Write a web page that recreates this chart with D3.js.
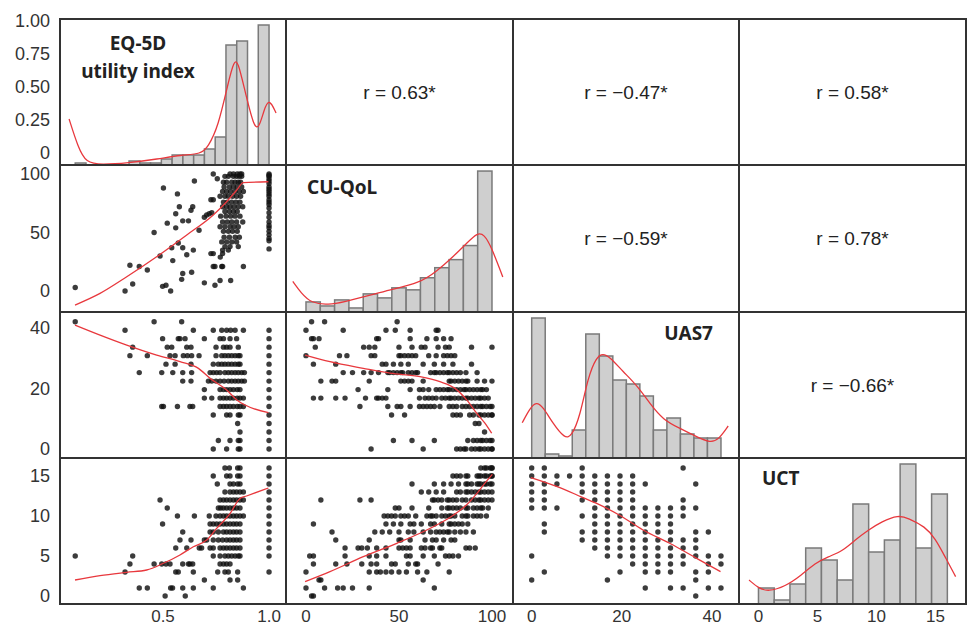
<!DOCTYPE html>
<html>
<head>
<meta charset="utf-8">
<script src="https://cdn.jsdelivr.net/npm/d3@7"></script>
<style>
  body { margin: 0; background: #fff; }
</style>
</head>
<body>
<div id="chart"></div>
<script>
var width = 971;
var height = 628;

// panel grid edges
var colEdges = [60, 286, 513, 739, 966];
var rowEdges = [19, 165, 312, 458, 604];

var variables = ["eq", "qol", "uas", "uct"];
var panelTitles = {
    eq: ["EQ-5D", "utility index"],
    qol: ["CU-QoL"],
    uas: ["UAS7"],
    uct: ["UCT"]
};

// correlation labels for the upper triangle, [row, col, text]
var corrLabels = [
    [0, 1, "r = 0.63*"],
    [0, 2, "r = \u22120.47*"],
    [0, 3, "r = 0.58*"],
    [1, 2, "r = \u22120.59*"],
    [1, 3, "r = 0.78*"],
    [2, 3, "r = \u22120.66*"]
];

// tick values and labels
var eqRowTicks = [0, 0.25, 0.5, 0.75, 1];
var eqRowTickLabels = ["0", "0.25", "0.50", "0.75", "1.00"];
var eqColTicks = [0.5, 1.0];
var eqColTickLabels = ["0.5", "1.0"];
var qolTicks = [0, 50, 100];
var uasTicks = [0, 20, 40];
var uctTicks = [0, 5, 10, 15];

// histograms (diagonal): bin range and counts
var eqBins = [0.086, 1.0];
var eqCounts = [1, 0, 0, 0, 0, 2, 1, 1, 3, 5, 5, 5, 8, 14, 60, 62, 0, 70];
var qolBins = [0, 100];
var qolCounts = [5, 3, 6, 2, 9, 7, 12, 11, 17, 22, 26, 33, 70];
var uasBins = [0, 42];
var uasCounts = [70, 2, 1, 14, 62, 51, 39, 37, 31, 14, 20, 12, 10, 10];
var uctBins = [0, 16];
var uctCounts = [8, 2, 10, 28, 22, 12, 50, 26, 32, 70, 28, 55];

// density curves (x value, density in count units)
var eqKde = [[0.057, 23], [0.099, 9], [0.137, 1], [0.21, 0.2], [0.335, 1], [0.476, 3], [0.585, 5],
    [0.68, 5.5], [0.712, 9], [0.76, 19], [0.807, 41], [0.835, 52.5], [0.854, 51.5], [0.882, 39],
    [0.929, 18.5], [0.953, 18.5], [0.976, 27.5], [1.0, 33.5], [1.033, 26]];
var qolKde = [[-7.1, 15.2], [-2.6, 9.4], [2.9, 4.4], [12, 3.5], [21.1, 5.2], [32.1, 7.7], [44.8, 11],
    [61.2, 14.4], [70.3, 20.2], [79.4, 27.7], [86.7, 34.4], [92.2, 39.4], [95.8, 38.5], [99.5, 32.7],
    [105.8, 17.4]];
var uasKde = [[-2.1, 17.6], [-0.4, 24.8], [1, 28.2], [2.5, 25.6], [4.7, 17.3], [7.3, 9.8], [8.8, 10.6],
    [10.7, 20.6], [12.5, 40.6], [14.4, 50.6], [15.8, 52.3], [17.3, 50.6], [20.3, 43.1], [23.3, 36.5],
    [26.2, 27.3], [29.2, 19], [32.9, 14.8], [36.6, 10.6], [39.6, 7.6], [41.4, 9], [43.6, 16]];
var uctKde = [[-0.8, 12], [0, 7.9], [0.83, 6.2], [2.25, 8.7], [3.66, 14.5], [4.79, 20.4], [5.92, 23.7],
    [7.05, 26.2], [8.18, 32], [9.31, 37], [10.44, 41.2], [11.85, 44.5], [12.69, 42.9], [14.11, 38.7],
    [14.96, 32.9], [15.8, 23.7], [16.7, 13.7]];

// discrete levels
var uasLevels = [0, 2.8, 5.6, 8.4, 11.2, 14, 16.8, 19.6, 22.4, 25.2, 28, 30.8, 33.6, 36.4, 39.2, 42];
var uctLevels = [0, 1, 2, 3, 4, 5, 6, 7, 8, 9, 10, 11, 12, 13, 14, 15, 16];

// EQ-5D vs CU-QoL, [eq, qol]
var eqQolPoints = [
    [0.086, 3], [0.321, 0], [0.357, 6], [0.344, 22], [0.388, 21], [0.426, 18], [0.458, 50], [0.486, 30],
    [0.502, 88], [0.498, 4], [0.514, 5], [0.536, 0], [0.52, 58], [0.546, 26], [0.541, 37], [0.56, 54],
    [0.568, 83], [0.56, 66], [0.577, 72], [0.572, 41], [0.593, 37], [0.593, 15], [0.588, 10], [0.593, 60],
    [0.612, 31], [0.62, 60], [0.632, 69], [0.64, 72], [0.635, 16], [0.643, 35], [0.648, 94], [0.67, 52],
    [0.695, 7], [0.695, 63], [0.706, 65], [0.718, 66], [0.73, 67], [0.737, 100], [0.756, 96], [0.745, 5],
    [0.769, 9], [0.819, 9], [0.879, 21], [0.726, 32], [0.737, 32], [0.737, 21], [0.745, 21], [0.777, 21],
    [0.781, 21], [0.77, 29], [0.781, 32], [0.726, 78], [0.737, 78], [0.769, 81],
    [0.816, 100], [0.832, 100], [0.85, 100], [0.863, 100], [0.871, 100],
    [0.792, 98], [0.808, 98], [0.832, 98], [0.847, 98], [0.86, 98], [0.871, 98],
    [0.785, 93], [0.8, 93], [0.824, 93], [0.84, 93], [0.855, 93], [0.866, 93],
    [0.788, 89], [0.813, 89], [0.832, 89], [0.85, 89], [0.871, 89],
    [0.781, 85], [0.8, 85], [0.819, 85], [0.84, 85], [0.86, 85], [0.879, 85],
    [0.792, 81], [0.808, 81], [0.828, 81], [0.847, 81], [0.866, 81],
    [0.785, 76], [0.803, 76], [0.824, 76], [0.844, 76], [0.863, 76],
    [0.781, 72], [0.8, 72], [0.816, 72], [0.835, 72], [0.855, 72], [0.876, 72],
    [0.792, 68], [0.813, 68], [0.832, 68], [0.85, 68],
    [0.772, 64], [0.797, 64], [0.819, 64], [0.84, 64], [0.863, 64],
    [0.781, 59], [0.803, 59], [0.824, 59], [0.847, 59], [0.876, 59],
    [0.769, 55], [0.792, 55], [0.816, 55], [0.835, 55], [0.855, 55],
    [0.785, 51], [0.808, 51], [0.828, 51], [0.85, 51],
    [0.788, 46], [0.813, 46], [0.84, 46], [0.86, 46],
    [0.777, 42], [0.8, 42], [0.824, 42], [0.847, 42],
    [0.792, 38], [0.816, 38], [0.855, 38], [0.781, 35], [0.808, 35],
    [1, 100], [1, 99], [1, 98], [1, 96], [1, 94], [1, 92], [1, 89], [1, 87], [1, 85], [1, 83], [1, 81],
    [1, 78], [1, 76], [1, 74], [1, 71], [1, 67], [1, 63], [1, 59], [1, 56], [1, 54], [1, 51], [1, 48],
    [1, 45], [1, 43], [1, 36]
];

// EQ-5D values for each UAS7 level
var eqByUas = [
    [0.737, 0.8, 0.855, 0.863, 1.0],
    [0.761, 0.816, 0.855, 0.863, 1.0],
    [0.863, 1.0],
    [0.852, 1.0],
    [0.737, 0.8, 0.816, 0.855, 0.863, 1.0],
    [0.494, 0.502, 0.568, 0.627, 0.64, 0.769, 0.785, 0.8, 0.816, 0.832, 0.85, 0.863, 0.879, 1.0],
    [0.695, 0.73, 0.769, 0.785, 0.8, 0.816, 0.832, 0.85, 0.863, 0.879, 1.0],
    [0.695, 0.769, 0.785, 0.8, 0.816, 0.832, 0.85, 0.863, 1.0],
    [0.593, 0.632, 0.714, 0.73, 0.75, 0.769, 0.788, 0.808, 0.824, 0.84, 0.855, 0.871, 0.884, 1.0],
    [0.388, 0.494, 0.546, 0.593, 0.635, 0.722, 0.737, 0.753, 0.769, 0.792, 0.808, 0.824, 0.84, 0.855, 0.871, 0.884, 1.0],
    [0.514, 0.557, 0.632, 0.737, 0.761, 0.777, 0.792, 0.808, 0.824, 0.84, 0.855, 0.863, 1.0],
    [0.344, 0.426, 0.533, 0.557, 0.596, 0.615, 0.635, 0.67, 0.75, 0.777, 0.792, 0.808, 0.824, 0.84, 0.855, 0.863, 1.0],
    [0.357, 0.52, 0.541, 0.612, 0.632, 0.75, 0.785, 0.8, 0.816, 0.855, 1.0],
    [0.498, 0.572, 0.58, 0.604, 0.695, 0.769, 0.785, 0.816, 0.847, 1.0],
    [0.321, 0.643, 0.737, 0.777, 0.8, 0.819, 0.84, 0.879, 1.0],
    [0.086, 0.458, 0.588]
];

// CU-QoL values for each UAS7 level
var qolByUas = [
    [35, 63, 81, 83, 85, 86, 89, 91, 93, 94, 96, 98, 100, 100],
    [47, 57, 69, 87, 90, 92, 94, 95, 97, 99, 100],
    [96],
    [91, 93],
    [46, 53, 79, 81, 83, 88, 90, 93, 94, 96, 98, 100, 100],
    [29, 44, 49, 51, 56, 61, 63, 65, 67, 69, 72, 77, 79, 81, 84, 86, 88, 90, 92, 94, 95, 97, 99, 100],
    [4, 8, 16, 21, 32, 38, 39, 41, 43, 61, 64, 66, 68, 70, 73, 75, 77, 78, 80, 82, 84, 86, 87, 89, 91, 93, 94, 96, 98],
    [28, 44, 56, 61, 63, 66, 70, 72, 74, 76, 77, 79, 81, 83, 85, 86, 88, 90, 92, 94, 95, 97],
    [8, 14, 16, 34, 51, 53, 55, 57, 63, 77, 78, 80, 82, 84, 86, 87, 92, 96, 100],
    [20, 25, 31, 35, 39, 44, 45, 47, 49, 51, 52, 55, 57, 59, 60, 67, 69, 70, 72, 74, 76, 77, 79, 81, 83, 86, 92],
    [4, 16, 41, 43, 47, 51, 55, 63, 69, 74, 79, 89],
    [0, 18, 22, 35, 37, 50, 51, 53, 55, 57, 59, 66, 70, 74, 76, 78, 80],
    [5, 31, 34, 37, 50, 57, 62, 64, 71, 75, 77, 89, 100],
    [3, 4, 7, 38, 39, 56, 65, 70, 74, 78],
    [0, 20, 43, 48, 56, 70, 71],
    [3, 10, 49]
];

// EQ-5D values for each UCT level
var eqByUct = [
    [0.51, 0.605],
    [0.388, 0.426, 0.536, 0.545, 0.593, 0.643, 0.737, 0.879],
    [0.695, 0.816, 0.852],
    [0.321, 0.56, 0.572, 0.643, 0.758, 0.792, 0.808, 0.852, 1.0],
    [0.344, 0.458, 0.494, 0.514, 0.533, 0.593, 0.62, 0.627, 0.64, 0.769, 0.785, 0.8, 0.816],
    [0.086, 0.357, 0.737, 0.769, 0.792, 0.808, 0.824, 0.84, 0.855, 0.863, 1.0],
    [0.56, 0.612, 0.671, 0.682, 0.722, 0.737, 0.769, 0.785, 0.8, 0.816, 0.832, 0.847, 0.863, 1.0],
    [0.58, 0.632, 0.695, 0.706, 0.737, 0.761, 0.781, 0.8, 0.816, 0.832, 0.847, 0.863, 1.0],
    [0.593, 0.722, 0.737, 0.761, 0.785, 0.8, 0.816, 0.832, 0.847, 0.863, 1.0],
    [0.498, 0.722, 0.737, 0.753, 0.769, 0.785, 0.8, 0.816, 0.832, 0.847, 0.863, 1.0],
    [0.568, 0.648, 0.718, 0.75, 0.769, 0.785, 0.8, 0.816, 0.832, 0.847, 0.863, 0.879, 1.0],
    [0.52, 0.761, 0.772, 0.785, 0.8, 0.816, 0.832, 0.847, 0.863, 1.0],
    [0.486, 0.769, 0.785, 0.8, 0.816, 0.832, 0.847, 0.863, 0.879, 1.0],
    [0.792, 0.816, 0.832, 0.847, 0.863, 0.879, 1.0],
    [0.756, 0.816, 0.832, 0.852, 0.863, 1.0],
    [0.737, 0.8, 0.816, 0.852, 0.863, 1.0],
    [0.792, 0.813, 0.852, 0.863, 1.0]
];

// CU-QoL values for each UCT level
var qolByUct = [
    [3, 4],
    [0, 10, 17, 20, 25, 34, 69],
    [7, 8, 63],
    [0, 34, 38, 40, 43, 46, 50, 54, 60, 65, 77],
    [4, 16, 22, 30, 35, 38, 46, 48, 55, 59, 60, 71],
    [2, 4, 21, 34, 38, 43, 54, 56, 63, 69, 75, 77, 79, 82],
    [21, 28, 30, 33, 38, 43, 50, 52, 54, 56, 62, 64, 67, 68, 72, 73, 86, 88, 91],
    [16, 34, 50, 51, 56, 64, 68, 70, 74, 78, 80],
    [14, 37, 41, 45, 50, 55, 58, 63, 67, 70, 72, 74, 76, 77, 80, 83, 86, 90],
    [4, 43, 47, 51, 56, 58, 62, 67, 69, 73, 77, 78, 80, 82, 84, 87],
    [42, 44, 46, 48, 51, 53, 55, 59, 65, 67, 68, 70, 73, 75, 77, 78, 80, 84, 86, 87, 90, 92, 94, 97],
    [48, 50, 57, 66, 73, 76, 77, 79, 81, 83, 86, 87, 90, 92, 94, 95, 98],
    [8, 29, 35, 68, 69, 71, 73, 76, 77, 79, 81, 84, 86, 89, 91, 93, 94, 96, 98, 100],
    [62, 66, 70, 74, 81, 83, 86, 87, 89, 91, 93, 94, 96, 98, 100],
    [57, 69, 74, 78, 82, 86, 87, 89, 92, 93, 94, 96, 97, 99, 100],
    [79, 81, 83, 86, 87, 92, 93, 94, 96, 97, 99, 100, 100],
    [94, 96, 97, 99, 100, 100]
];

// UCT values for each UAS7 level
var uctByUas = [
    [16, 15, 14, 13, 12, 11, 5, 2],
    [16, 15, 14, 13, 12, 11, 9, 8, 3],
    [15, 14, 11],
    [15],
    [16, 15, 14, 13, 12, 10, 8, 7],
    [15, 14, 13, 12, 11, 10, 9, 8, 7, 6],
    [15, 14, 13, 12, 11, 10, 9, 8, 7, 6, 5, 2],
    [15, 14, 13, 12, 11, 10, 9, 8, 7, 6, 5, 3],
    [15, 14, 13, 12, 11, 10, 9, 8, 7, 6, 5, 4],
    [14, 11, 10, 9, 8, 7, 6, 5, 4, 3, 1],
    [11, 10, 9, 8, 7, 6, 5, 4, 3],
    [11, 10, 9, 8, 7, 6, 5, 4, 3, 1],
    [16, 12, 11, 10, 7, 6, 5, 4, 1],
    [14, 11, 8, 7, 6, 5, 3, 2, 0],
    [8, 5, 4, 3, 1],
    [5, 4, 1]
];

// smoothed trend lines for the lower triangle
var eqQolTrend = [[0.085, -12], [0.203, -2], [0.329, 12.2], [0.47, 29.3], [0.612, 47.9], [0.737, 65],
    [0.8, 76.3], [0.848, 86.3], [0.879, 92.6], [0.997, 93.4]];
var eqUasTrend = [[0.085, 40.9], [0.203, 37.6], [0.329, 34.3], [0.47, 31], [0.58, 28.8], [0.667, 26.6],
    [0.722, 23.3], [0.8, 19.5], [0.848, 16.2], [0.887, 14.5], [0.997, 12]];
var eqUctTrend = [[0.085, 2], [0.203, 2.54], [0.329, 2.96], [0.423, 3.25], [0.502, 4.09], [0.58, 5.13],
    [0.643, 6.16], [0.706, 7], [0.753, 8.46], [0.816, 10.3], [0.863, 12.2], [0.894, 12.5], [0.997, 13.5]];
var qolUasTrend = [[-0.5, 31], [12.9, 28.8], [30.8, 26.6], [45.2, 25], [61.3, 23.9], [72, 22.2],
    [80.1, 20], [86.4, 16.2], [91.8, 11.8], [96.2, 8.5], [99.8, 5.2]];
var qolUctTrend = [[-0.5, 1.79], [12.9, 3.04], [30.8, 4.91], [48.8, 6.59], [61.3, 7.84], [72, 9.09],
    [79.2, 10.1], [86.4, 11.4], [91.8, 12.8], [96.2, 14.1], [100.2, 15.2]];
var uasUctTrend = [[-0.2, 14.8], [5.5, 13.7], [11, 12.4], [14.3, 11.6], [19.5, 10.1], [24.7, 8.25],
    [30.6, 6.59], [36.6, 4.71], [41.9, 3.04]];

// axis extents of each variable inside a panel
var xDomains = { eq: [0.0142, 1.08], qol: [-10.75, 111.3], uas: [-4.15, 46.0], uct: [-1.65, 17.58] };
var yDomains = { eq: [-0.091, 1.015], qol: [-17.9, 107.7], uas: [-2.97, 45.2], uct: [-1, 17.25] };
var countDomain = [0, 73];

var redColor = "#e8383d";
var dotColor = "#111";
var tickFont = "'Liberation Sans', Arial, sans-serif";
var titleFont = "'Noto Sans', 'Open Sans', sans-serif";

function xScale(col) {
    return d3.scaleLinear().domain(xDomains[variables[col]]).range([colEdges[col], colEdges[col + 1]]);
}

function yScale(row) {
    return d3.scaleLinear().domain(yDomains[variables[row]]).range([rowEdges[row + 1], rowEdges[row]]);
}

function countScale(row) {
    return d3.scaleLinear().domain(countDomain).range([rowEdges[row + 1], rowEdges[row]]);
}

function levelPoints(levels, valuesByLevel, levelIsX) {
    var pts = [];
    valuesByLevel.forEach(function (vals, i) {
        vals.forEach(function (v) {
            pts.push(levelIsX ? [levels[i], v] : [v, levels[i]]);
        });
    });
    return pts;
}

// lower triangle data, keyed "row-col"
var scatterData = {
    "1-0": { points: eqQolPoints, trend: eqQolTrend },
    "2-0": { points: levelPoints(uasLevels, eqByUas, false), trend: eqUasTrend },
    "2-1": { points: levelPoints(uasLevels, qolByUas, false), trend: qolUasTrend },
    "3-0": { points: levelPoints(uctLevels, eqByUct, false), trend: eqUctTrend },
    "3-1": { points: levelPoints(uctLevels, qolByUct, false), trend: qolUctTrend },
    "3-2": { points: levelPoints(uasLevels, uctByUas, true), trend: uasUctTrend }
};

var histData = {
    eq: { bins: eqBins, counts: eqCounts, kde: eqKde },
    qol: { bins: qolBins, counts: qolCounts, kde: qolKde },
    uas: { bins: uasBins, counts: uasCounts, kde: uasKde },
    uct: { bins: uctBins, counts: uctCounts, kde: uctKde }
};

var svg = d3.select("#chart").append("svg")
    .attr("width", width)
    .attr("height", height)
    .style("font-family", tickFont);

svg.append("defs").selectAll("clipPath")
    .data(d3.range(16))
    .enter().append("clipPath")
    .attr("id", function (d) { return "clip" + d; })
    .append("rect")
    .attr("x", function (d) { return colEdges[d % 4]; })
    .attr("y", function (d) { return rowEdges[Math.floor(d / 4)]; })
    .attr("width", function (d) { return colEdges[d % 4 + 1] - colEdges[d % 4]; })
    .attr("height", function (d) { return rowEdges[Math.floor(d / 4) + 1] - rowEdges[Math.floor(d / 4)]; });

function addHistogram(row) {
    var v = variables[row];
    var h = histData[v];
    var x = xScale(row);
    var y = countScale(row);
    var g = svg.append("g").attr("clip-path", "url(#clip" + (row * 5) + ")");
    var binWidth = (h.bins[1] - h.bins[0]) / h.counts.length;

    g.selectAll("rect.bar")
        .data(h.counts)
        .enter().append("rect")
        .attr("class", "bar")
        .attr("x", function (d, i) { return x(h.bins[0] + i * binWidth); })
        .attr("width", function () { return x(h.bins[0] + binWidth) - x(h.bins[0]); })
        .attr("y", function (d) { return y(d); })
        .attr("height", function (d) { return y(0) - y(d); })
        .attr("fill", "#cfcfcf")
        .attr("stroke", "#7a7a7a")
        .attr("stroke-width", 1.5)
        .style("display", function (d) { return d > 0 ? null : "none"; });

    var line = d3.line()
        .x(function (d) { return x(d[0]); })
        .y(function (d) { return y(d[1]); })
        .curve(d3.curveBasis);

    g.append("path")
        .datum(h.kde)
        .attr("d", line)
        .attr("fill", "none")
        .attr("stroke", redColor)
        .attr("stroke-width", 1.3);
}

function addScatter(row, col) {
    var d = scatterData[row + "-" + col];
    var x = xScale(col);
    var y = yScale(row);
    var g = svg.append("g").attr("clip-path", "url(#clip" + (row * 4 + col) + ")");

    g.selectAll("circle")
        .data(d.points)
        .enter().append("circle")
        .attr("cx", function (p) { return x(p[0]); })
        .attr("cy", function (p) { return y(p[1]); })
        .attr("r", 2.7)
        .attr("fill", dotColor)
        .attr("fill-opacity", 0.82);

    var line = d3.line()
        .x(function (p) { return x(p[0]); })
        .y(function (p) { return y(p[1]); })
        .curve(d3.curveMonotoneX);

    g.append("path")
        .datum(d.trend)
        .attr("d", line)
        .attr("fill", "none")
        .attr("stroke", redColor)
        .attr("stroke-width", 1.3);
}

function addCorrelation(row, col, text) {
    svg.append("text")
        .attr("x", (colEdges[col] + colEdges[col + 1]) / 2)
        .attr("y", (rowEdges[row] + rowEdges[row + 1]) / 2)
        .attr("dy", "0.35em")
        .attr("text-anchor", "middle")
        .attr("font-size", "19px")
        .attr("fill", "#222")
        .text(text);
}

function addTitle(row) {
    var v = variables[row];
    var lines = panelTitles[v];
    var pos = {
        eq: { x: 138, y: 43, anchor: "middle" },
        qol: { x: 307, y: 187, anchor: "start" },
        uas: { x: 713, y: 333, anchor: "end" },
        uct: { x: 762, y: 478, anchor: "start" }
    }[v];
    svg.append("text")
        .attr("x", pos.x)
        .attr("y", pos.y)
        .attr("text-anchor", pos.anchor)
        .attr("font-family", titleFont)
        .attr("font-weight", "bold")
        .attr("font-size", "19px")
        .attr("fill", "#222")
        .selectAll("tspan")
        .data(lines)
        .enter().append("tspan")
        .attr("x", pos.x)
        .attr("dy", function (d, i) { return i === 0 ? "0.35em" : "28px"; })
        .text(function (d) { return d; });
}

// y axis labels down the left side
function addYTicks(row, ticks, labels) {
    var y = row === 0 ? d3.scaleLinear().domain(yDomains.eq).range([rowEdges[1], rowEdges[0]]) : yScale(row);
    svg.append("g").selectAll("text")
        .data(ticks)
        .enter().append("text")
        .attr("x", 50)
        .attr("y", function (d) { return y(d); })
        .attr("dy", "0.35em")
        .attr("text-anchor", "end")
        .attr("font-size", "18px")
        .attr("fill", "#333")
        .text(function (d, i) { return labels ? labels[i] : d; });
}

function addXTicks(col, ticks, labels) {
    var x = xScale(col);
    svg.append("g").selectAll("text")
        .data(ticks)
        .enter().append("text")
        .attr("x", function (d) { return x(d); })
        .attr("y", 616)
        .attr("dy", "0.35em")
        .attr("text-anchor", "middle")
        .attr("font-size", "17px")
        .attr("fill", "#333")
        .text(function (d, i) { return labels ? labels[i] : d; });
}

for (var row = 0; row < 4; row++) {
    for (var col = 0; col < 4; col++) {
        if (row === col) {
            addHistogram(row);
        } else if (row > col) {
            addScatter(row, col);
        }
    }
}

corrLabels.forEach(function (c) { addCorrelation(c[0], c[1], c[2]); });
for (var r = 0; r < 4; r++) { addTitle(r); }

// panel borders
for (var r2 = 0; r2 < 4; r2++) {
    for (var c2 = 0; c2 < 4; c2++) {
        svg.append("rect")
            .attr("x", colEdges[c2])
            .attr("y", rowEdges[r2])
            .attr("width", colEdges[c2 + 1] - colEdges[c2])
            .attr("height", rowEdges[r2 + 1] - rowEdges[r2])
            .attr("fill", "none")
            .attr("stroke", "#333")
            .attr("stroke-width", 2);
    }
}

addYTicks(0, eqRowTicks, eqRowTickLabels);
addYTicks(1, qolTicks);
addYTicks(2, uasTicks);
addYTicks(3, uctTicks);
addXTicks(0, eqColTicks, eqColTickLabels);
addXTicks(1, qolTicks);
addXTicks(2, uasTicks);
addXTicks(3, uctTicks);
</script>
</body>
</html>
